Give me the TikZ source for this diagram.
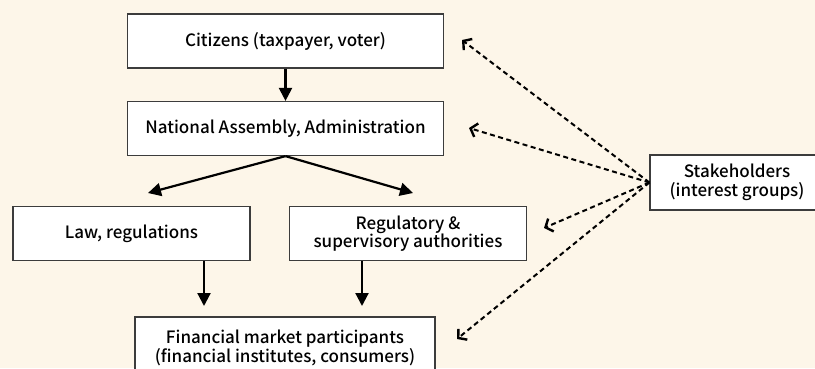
\documentclass[tikz,border=0pt]{standalone}
\usepackage{fontspec}
\setmainfont{Noto Sans CJK KR}[UprightFont = * Medium]
\usetikzlibrary{arrows.meta}

\definecolor{bgcream}{HTML}{FDF6E9}
\definecolor{boxline}{HTML}{3C3C3C}

\def\boxHeight{54}
\def\wideBoxWidth{316}
\def\sideBoxWidth{237}

\tikzset{
    box/.style = {draw = boxline, fill = white, line width = 1.2pt,
        minimum height = \boxHeight pt, inner sep = 0pt, align = center,
        font = \fontsize{17}{18.5}\selectfont},
    flow/.style = {line width = 2.2pt, -{Triangle[length = 13pt, width = 13pt]}},
    lobby/.style = {line width = 2pt, dash pattern = on 5pt off 3.5pt,
        -{Straight Barb[length = 6pt, width = 14pt, line width = 2.4pt]}},
}

\begin{document}
\begin{tikzpicture}[x = 1pt, y = -1pt]
            %% background
            \fill [bgcream] (0,0) rectangle (815,368);
            \useasboundingbox (0,0) rectangle (815,368);
            \clip (0,0) rectangle (815,368);
            %% boxes
            \node [box, minimum width = \wideBoxWidth pt] (cit) at (285.5,41)
                {Citizens (taxpayer, voter)};
            \node [box, minimum width = \wideBoxWidth pt] (nat) at (285.5,128.5)
                {National Assembly, Administration};
            \node [box, minimum width = \sideBoxWidth pt] (law) at (131.5,233.5)
                {Law, regulations};
            \node [box, minimum width = \sideBoxWidth pt] (reg) at (408,233.5)
                {Regulatory \&\\supervisory authorities};
            \node [box, minimum width = 300pt, minimum height = 62pt] (fmp) at (285,348)
                {Financial market participants\\(financial institutes, consumers)};
            \node [box, minimum width = 174pt, minimum height = 55pt] (stk) at (737,182.5)
                {Stakeholders\\(interest groups)};
            %% arrow tips
            \coordinate (lawtip) at (148,193);
            \coordinate (regtip) at (413,193);
            \coordinate (fmpL) at (204,306);
            \coordinate (fmpR) at (362,306);
            \coordinate (lob1) at (462,40);
            \coordinate (lob2) at (469,128);
            \coordinate (lob3) at (544,228);
            \coordinate (lob4) at (457,339);
            %% solid arrows
            \draw [flow] (cit.south) -- (nat.north);
            \draw [flow] (nat.south) -- (lawtip);
            \draw [flow] (nat.south) -- (regtip);
            \draw [flow] (law.south -| fmpL) -- (fmpL);
            \draw [flow] (reg.south -| fmpR) -- (fmpR);
            %% dashed arrows
            \foreach \t in {lob1,lob2,lob3,lob4} {
                \draw [lobby] (stk.west) -- (\t);
            }
\end{tikzpicture}
\end{document}
